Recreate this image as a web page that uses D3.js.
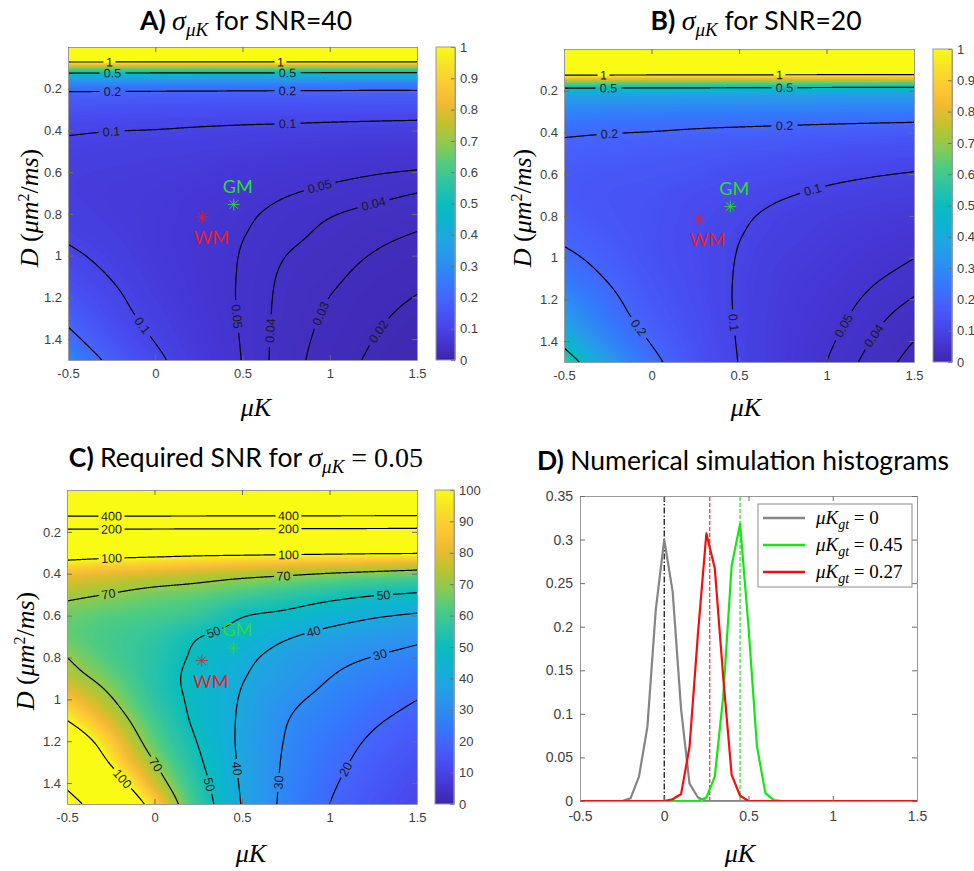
<!DOCTYPE html>
<html>
<head>
<meta charset="utf-8">
<script src="https://cdn.jsdelivr.net/npm/d3@7"></script>
<style>
  body { margin: 0; background: #fff; }
  svg text { font-family: "Liberation Sans", Arial, sans-serif; }
  .tick text { fill: #404040; }
  .tick line { stroke: #6e6e6e; }
  .domain { stroke: #9a9a9a; }
  .serif { font-family: "Liberation Serif", "DejaVu Serif", serif !important; }
  .ttl { font-family: Lato, "Open Sans", sans-serif !important; font-size: 26.5px; }
</style>
</head>
<body>
<div id="fig"></div>
<script>
// grid nodes of the maps (columns = muK, rows = D)
var muKNodes = [-0.5, -0.25, 0, 0.25, 0.5, 0.75, 1, 1.25, 1.5];
var dNodes = [0, 0.05, 0.1, 0.15, 0.2, 0.3, 0.4, 0.5, 0.6, 0.7, 0.8, 0.9, 1, 1.1, 1.2, 1.3, 1.4, 1.5];

// A) sigma_muK for SNR=40
var sigmaSNR40 = [
  [6.25, 6.25, 6.25, 6.25, 6.25, 6.25, 6.25, 6.25, 6.25],
  [1.475, 1.475, 1.475, 1.475, 1.475, 1.475, 1.475, 1.475, 1.475],
  [0.6875, 0.685, 0.6825, 0.68, 0.6775, 0.675, 0.6725, 0.67, 0.6675],
  [0.375, 0.374, 0.3725, 0.371, 0.37, 0.369, 0.3675, 0.366, 0.365],
  [0.2225, 0.221, 0.22, 0.219, 0.2175, 0.216, 0.215, 0.214, 0.2125],
  [0.141, 0.1375, 0.135, 0.1325, 0.131, 0.13, 0.129, 0.1275, 0.127],
  [0.105, 0.101, 0.099, 0.0956, 0.0925, 0.09, 0.0869, 0.0844, 0.0819],
  [0.0906, 0.0869, 0.0831, 0.0806, 0.0756, 0.0713, 0.0669, 0.0634, 0.061],
  [0.0825, 0.0788, 0.0763, 0.0719, 0.0633, 0.0598, 0.055, 0.0513, 0.0488],
  [0.0813, 0.0756, 0.0713, 0.063, 0.0581, 0.0513, 0.0466, 0.0433, 0.04],
  [0.0875, 0.0769, 0.0694, 0.0603, 0.0531, 0.0456, 0.0408, 0.0373, 0.0343],
  [0.0944, 0.0819, 0.0688, 0.0588, 0.0506, 0.0431, 0.0375, 0.033, 0.0293],
  [0.1081, 0.0888, 0.0706, 0.0591, 0.0491, 0.04, 0.0349, 0.0294, 0.0251],
  [0.125, 0.0981, 0.075, 0.0598, 0.0484, 0.038, 0.0324, 0.0263, 0.0223],
  [0.1513, 0.11, 0.08, 0.0619, 0.048, 0.037, 0.0299, 0.0238, 0.0196],
  [0.1825, 0.1225, 0.0875, 0.0646, 0.0483, 0.0363, 0.0281, 0.0218, 0.0171],
  [0.23, 0.145, 0.0975, 0.0681, 0.0488, 0.0356, 0.0265, 0.02, 0.015],
  [0.3, 0.1788, 0.1125, 0.0719, 0.0495, 0.035, 0.025, 0.0184, 0.0133]
];

// B) sigma_muK for SNR=20
var sigmaSNR20 = [
  [12.5, 12.5, 12.5, 12.5, 12.5, 12.5, 12.5, 12.5, 12.5],
  [2.95, 2.95, 2.95, 2.95, 2.95, 2.95, 2.95, 2.95, 2.95],
  [1.375, 1.37, 1.365, 1.36, 1.355, 1.35, 1.345, 1.34, 1.335],
  [0.75, 0.748, 0.745, 0.743, 0.74, 0.738, 0.735, 0.733, 0.73],
  [0.445, 0.443, 0.44, 0.438, 0.435, 0.433, 0.43, 0.428, 0.425],
  [0.283, 0.275, 0.27, 0.265, 0.263, 0.26, 0.258, 0.255, 0.254],
  [0.21, 0.203, 0.198, 0.191, 0.185, 0.18, 0.174, 0.169, 0.164],
  [0.181, 0.174, 0.166, 0.161, 0.151, 0.143, 0.134, 0.127, 0.122],
  [0.165, 0.158, 0.153, 0.144, 0.127, 0.12, 0.11, 0.103, 0.0975],
  [0.163, 0.151, 0.143, 0.126, 0.116, 0.103, 0.0933, 0.0865, 0.08],
  [0.175, 0.154, 0.139, 0.121, 0.106, 0.0913, 0.0815, 0.0745, 0.0685],
  [0.189, 0.164, 0.138, 0.118, 0.101, 0.0863, 0.075, 0.066, 0.0585],
  [0.216, 0.178, 0.141, 0.118, 0.0983, 0.08, 0.0698, 0.0588, 0.0503],
  [0.25, 0.196, 0.15, 0.12, 0.0968, 0.076, 0.0648, 0.0525, 0.0445],
  [0.303, 0.22, 0.16, 0.124, 0.096, 0.074, 0.0598, 0.0475, 0.0393],
  [0.365, 0.245, 0.175, 0.129, 0.0965, 0.0725, 0.0563, 0.0435, 0.0343],
  [0.46, 0.29, 0.195, 0.136, 0.0975, 0.0713, 0.053, 0.04, 0.03],
  [0.6, 0.358, 0.225, 0.144, 0.099, 0.07, 0.05, 0.0368, 0.0265]
];

// C) required SNR for sigma_muK = 0.05
var requiredSNR = [
  [5000, 5000, 5000, 5000, 5000, 5000, 5000, 5000, 5000],
  [1180, 1180, 1180, 1180, 1180, 1180, 1180, 1180, 1180],
  [550, 548, 546, 544, 542, 540, 538, 536, 534],
  [300, 299, 298, 297, 296, 295, 294, 293, 292],
  [178, 177, 176, 175, 174, 173, 172, 171, 170],
  [113, 110, 108, 106, 105, 104, 103, 102, 101.5],
  [84, 81, 79, 76.5, 74, 72, 69.5, 67.5, 65.5],
  [72.5, 69.5, 66.5, 64.5, 60.5, 57, 53.5, 50.7, 48.8],
  [66, 63, 61, 57.5, 50.6, 47.8, 44, 41, 39],
  [65, 60.5, 57, 50.4, 46.5, 41, 37.3, 34.6, 32],
  [70, 61.5, 55.5, 48.2, 42.5, 36.5, 32.6, 29.8, 27.4],
  [75.5, 65.5, 55, 47, 40.5, 34.5, 30, 26.4, 23.4],
  [86.5, 71, 56.5, 47.3, 39.3, 32, 27.9, 23.5, 20.1],
  [100, 78.5, 60, 47.8, 38.7, 30.4, 25.9, 21, 17.8],
  [121, 88, 64, 49.5, 38.4, 29.6, 23.9, 19, 15.7],
  [146, 98, 70, 51.7, 38.6, 29, 22.5, 17.4, 13.7],
  [184, 116, 78, 54.5, 39, 28.5, 21.2, 16, 12],
  [240, 143, 90, 57.5, 39.6, 28, 20, 14.7, 10.6]
];

var levelsA = [0.02, 0.03, 0.04, 0.05, 0.1, 0.2, 0.5, 1];
var levelsB = [0.03, 0.04, 0.05, 0.1, 0.2, 0.5, 1];
var levelsC = [20, 30, 40, 50, 70, 100, 200, 400];

// contour label spots [level, muK, D]
var labelsA = [[1, -0.26, 0.075], [1, 0.72, 0.075], [0.5, -0.245, 0.115], [0.5, 0.76, 0.115],
  [0.2, -0.245, 0.22], [0.2, 0.76, 0.21], [0.1, -0.25, 0.41], [0.1, 0.76, 0.37],
  [0.05, 0.945, 0.68], [0.05, 0.468, 1.29], [0.04, 1.25, 0.75], [0.04, 0.668, 1.36],
  [0.03, 0.954, 1.28], [0.02, 1.288, 1.37], [0.1, -0.067, 1.33]];
var labelsB = [[1, -0.277, 0.116], [1, 0.729, 0.116], [0.5, -0.247, 0.188], [0.5, 0.76, 0.186],
  [0.2, -0.242, 0.41], [0.2, 0.76, 0.364], [0.1, 0.923, 0.683], [0.1, 0.466, 1.31],
  [0.05, 1.104, 1.33], [0.04, 1.285, 1.38], [0.2, -0.067, 1.33]];
var labelsC = [[400, -0.243, 0.123], [400, 0.766, 0.123], [200, -0.243, 0.19], [200, 0.766, 0.186],
  [100, -0.243, 0.33], [100, 0.766, 0.305], [70, -0.262, 0.486], [70, 0.738, 0.409],
  [50, 1.31, 0.502], [50, 0.329, 0.661], [50, 0.309, 1.41], [40, 0.909, 0.68], [40, 0.462, 1.33],
  [30, 1.29, 0.788], [30, 0.719, 1.4], [20, 1.1, 1.338], [70, 0.014, 1.306], [100, -0.177, 1.378]];

var tissueNames = ["WM", "GM"];
var tissueMuK = [0.27, 0.45];
var tissueD = [0.815, 0.755];
var tissueColors = ["#e0202e", "#2fdc2f"];

// D) histograms
var binCenters = [-0.5, -0.45, -0.4, -0.35, -0.3, -0.25, -0.2, -0.15, -0.1, -0.05, 0, 0.05, 0.1, 0.15,
  0.2, 0.25, 0.3, 0.35, 0.4, 0.45, 0.5, 0.55, 0.6, 0.65, 0.7, 0.75, 0.8, 0.85, 0.9, 0.95, 1, 1.05,
  1.1, 1.15, 1.2, 1.25, 1.3, 1.35, 1.4, 1.45, 1.5];
var histGray = [0, 0, 0, 0, 0, 0, 0.003, 0.028, 0.085, 0.22, 0.30, 0.24, 0.105, 0.02, 0.004, 0,
  0, 0, 0, 0, 0, 0, 0, 0, 0, 0, 0, 0, 0, 0, 0, 0, 0, 0, 0, 0, 0, 0, 0, 0, 0];
var histGreen = [0, 0, 0, 0, 0, 0, 0, 0, 0, 0, 0, 0, 0, 0, 0, 0.004, 0.028, 0.12, 0.27, 0.318, 0.2,
  0.063, 0.009, 0.001, 0, 0, 0, 0, 0, 0, 0, 0, 0, 0, 0, 0, 0, 0, 0, 0, 0];
var histRed = [0, 0, 0, 0, 0, 0, 0, 0, 0, 0, 0, 0.002, 0.008, 0.062, 0.192, 0.307, 0.267, 0.142,
  0.03, 0.006, 0, 0, 0, 0, 0, 0, 0, 0, 0, 0, 0, 0, 0, 0, 0, 0, 0, 0, 0, 0, 0];
var gtLabels = ["0", "0.45", "0.27"];
var gtValues = [0, 0.45, 0.27];
var gtLineColors = ["#1a1a1a", "#3ddc3d", "#f03c3c"];
var histColors = ["#858585", "#14e614", "#f01010"];

var xTicks = [-0.5, 0, 0.5, 1, 1.5];
var dTicks = [0.2, 0.4, 0.6, 0.8, 1, 1.2, 1.4];
var cbTicksSigma = [0, 0.1, 0.2, 0.3, 0.4, 0.5, 0.6, 0.7, 0.8, 0.9, 1];
var cbTicksSNR = [0, 10, 20, 30, 40, 50, 60, 70, 80, 90, 100];
var histTicks = [0, 0.05, 0.1, 0.15, 0.2, 0.25, 0.3, 0.35];

// parula-like colormap
var parulaStops = ["#3e26a8", "#4537d5", "#484cf0", "#4562fc", "#337afc", "#2c90f0", "#21a3e3",
  "#0eb2d2", "#09bdbd", "#2ec3a4", "#4ecc81", "#8bcb51", "#bec32d", "#ecba32", "#fec735",
  "#f6e028", "#f9fb15"];
var parula = d3.piecewise(d3.interpolateRgb, parulaStops);
var lut = d3.range(256).map(function(k) { return d3.rgb(parula(k / 255)); });

var svg = d3.select("#fig").append("svg")
  .attr("width", 974)
  .attr("height", 871)
  .style("background", "#fff");
var defs = svg.append("defs");
var tickFmt = function(d) { return String(d); };

// cubic hermite through the grid nodes (non uniform spacing)
function hermite(xs, ys, x) {
  var n = xs.length;
  var i = d3.bisectRight(xs, x) - 1;
  i = Math.max(0, Math.min(n - 2, i));
  function slope(k) {
    if (k === 0) return (ys[1] - ys[0]) / (xs[1] - xs[0]);
    if (k === n - 1) return (ys[n - 1] - ys[n - 2]) / (xs[n - 1] - xs[n - 2]);
    var h0 = xs[k] - xs[k - 1], h1 = xs[k + 1] - xs[k];
    return ((ys[k + 1] - ys[k]) / h1 * h0 + (ys[k] - ys[k - 1]) / h0 * h1) / (h0 + h1);
  }
  var h = xs[i + 1] - xs[i], t = (x - xs[i]) / h, t2 = t * t, t3 = t2 * t;
  return (2 * t3 - 3 * t2 + 1) * ys[i] + (t3 - 2 * t2 + t) * h * slope(i) +
    (-2 * t3 + 3 * t2) * ys[i + 1] + (t3 - t2) * h * slope(i + 1);
}

// turn d3 contour polygons into open lines (drop the grid border parts)
function isolines(contour, w, h) {
  var eps = 1e-6, lines = [];
  function onB(p) { return p[0] <= eps || p[0] >= w - eps || p[1] <= eps || p[1] >= h - eps; }
  contour.coordinates.forEach(function(poly) {
    poly.forEach(function(ring) {
      var pts = ring.slice(0, ring.length - 1), m = pts.length, start = -1;
      for (var k = 0; k < m; k++) {
        if (onB(pts[k]) && onB(pts[(k + 1) % m])) { start = k; break; }
      }
      if (start < 0) { lines.push(ring.slice()); return; }
      var cur = [];
      for (var s = 0; s < m; s++) {
        var a = pts[(start + s) % m], b = pts[(start + s + 1) % m];
        if (onB(a) && onB(b)) {
          if (cur.length > 1) lines.push(cur);
          cur = [];
        } else {
          if (!cur.length) cur.push(a);
          cur.push(b);
        }
      }
      if (cur.length > 1) lines.push(cur);
    });
  });
  return lines;
}

function boxAxes(x, y, xt, yt, x0, y0, w, h, xPad, yPad, tl, fs) {
  svg.append("g").attr("transform", "translate(0," + (y0 + h) + ")")
    .call(d3.axisBottom(x).tickValues(xt).tickFormat(tickFmt).tickSizeInner(-tl).tickSizeOuter(0).tickPadding(xPad))
    .selectAll("text").style("font-size", fs + "px");
  svg.append("g").attr("transform", "translate(0," + y0 + ")")
    .call(d3.axisTop(x).tickValues(xt).tickFormat("").tickSizeInner(-tl).tickSizeOuter(0));
  svg.append("g").attr("transform", "translate(" + x0 + ",0)")
    .call(d3.axisLeft(y).tickValues(yt).tickFormat(tickFmt).tickSizeInner(-tl).tickSizeOuter(0).tickPadding(yPad))
    .selectAll("text").style("font-size", fs + "px");
  svg.append("g").attr("transform", "translate(" + (x0 + w) + ",0)")
    .call(d3.axisRight(y).tickValues(yt).tickFormat("").tickSizeInner(-tl).tickSizeOuter(0));
}

function drawMap(p) {
  var x = d3.scaleLinear().domain([-0.5, 1.5]).range([p.x0, p.x0 + p.w]);
  var y = d3.scaleLinear().domain([0, 1.5]).range([p.y0, p.y0 + p.h]);
  var logGrid = p.grid.map(function(r) { return r.map(Math.log); });
  var field = new Float64Array(p.w * p.h);
  for (var i = 0; i < p.w; i++) {
    var mu = x.invert(p.x0 + i + 0.5);
    var col = logGrid.map(function(r) { return hermite(muKNodes, r, mu); });
    for (var j = 0; j < p.h; j++) {
      field[j * p.w + i] = hermite(dNodes, col, y.invert(p.y0 + j + 0.5));
    }
  }

  // colour raster
  var canvas = document.createElement("canvas");
  canvas.width = p.w;
  canvas.height = p.h;
  var ctx = canvas.getContext("2d");
  var img = ctx.createImageData(p.w, p.h);
  for (var k = 0; k < field.length; k++) {
    var t = Math.max(0, Math.min(1, Math.exp(field[k]) / p.cmax));
    var c = lut[Math.round(t * 255)];
    img.data[4 * k] = c.r; img.data[4 * k + 1] = c.g; img.data[4 * k + 2] = c.b; img.data[4 * k + 3] = 255;
  }
  ctx.putImageData(img, 0, 0);
  svg.append("image")
    .attr("x", p.x0).attr("y", p.y0)
    .attr("width", p.w).attr("height", p.h)
    .attr("preserveAspectRatio", "none")
    .attr("href", canvas.toDataURL());

  // contour lines with gaps for their labels
  var cs = d3.contours().size([p.w, p.h]).thresholds(p.levels.map(Math.log))(field);
  var lines = {};
  cs.forEach(function(c, k) { lines[p.levels[k]] = isolines(c, p.w, p.h); });

  var mask = defs.append("mask").attr("id", "mask" + p.id)
    .attr("maskUnits", "userSpaceOnUse")
    .attr("x", p.x0).attr("y", p.y0).attr("width", p.w).attr("height", p.h);
  mask.append("rect").attr("x", p.x0).attr("y", p.y0).attr("width", p.w).attr("height", p.h).attr("fill", "white");

  var labelG = svg.append("g");
  p.labels.forEach(function(l) {
    var tx = x(l[1]) - p.x0, ty = y(l[2]) - p.y0, best = null, bd = Infinity;
    (lines[l[0]] || []).forEach(function(line) {
      line.forEach(function(pt, idx) {
        var dd = (pt[0] - tx) * (pt[0] - tx) + (pt[1] - ty) * (pt[1] - ty);
        if (dd < bd) { bd = dd; best = { line: line, idx: idx }; }
      });
    });
    if (!best) return;
    var ln = best.line;
    var a = ln[Math.max(0, best.idx - 4)], b = ln[Math.min(ln.length - 1, best.idx + 4)];
    var ang = Math.atan2(b[1] - a[1], b[0] - a[0]) * 180 / Math.PI;
    if (ang > 90) ang -= 180;
    if (ang <= -90) ang += 180;
    var pt = ln[best.idx];
    var tr = "translate(" + (p.x0 + pt[0]) + "," + (p.y0 + pt[1]) + ") rotate(" + ang + ")";
    var txt = String(l[0]);
    var bw = txt.length * 7 + 5;
    mask.append("rect").attr("x", -bw / 2).attr("y", -6).attr("width", bw).attr("height", 12)
      .attr("transform", tr).attr("fill", "black");
    labelG.append("text").attr("transform", tr)
      .attr("text-anchor", "middle").attr("dy", "0.36em")
      .style("font-size", "12.5px").style("fill", "#1a1a1a")
      .text(txt);
  });

  var line = d3.line().x(function(d) { return p.x0 + d[0]; }).y(function(d) { return p.y0 + d[1]; });
  var cg = svg.insert("g", function() { return labelG.node(); }).attr("mask", "url(#mask" + p.id + ")");
  p.levels.forEach(function(lv) {
    lines[lv].forEach(function(ln) {
      cg.append("path").attr("d", line(ln)).attr("fill", "none").attr("stroke", "#000").attr("stroke-width", 1.2);
    });
  });

  // tissue markers
  tissueNames.forEach(function(name, k) {
    var mx = x(tissueMuK[k]), my = y(tissueD[k]);
    svg.append("path")
      .attr("d", "M-6,0H6M0,-6V6M-4.3,-4.3L4.3,4.3M-4.3,4.3L4.3,-4.3")
      .attr("transform", "translate(" + mx + "," + my + ")")
      .attr("stroke", tissueColors[k]).attr("stroke-width", 0.9).attr("fill", "none");
    svg.append("text")
      .attr("x", mx + (name === "GM" ? 4 : 9))
      .attr("y", my + (name === "GM" ? -12 : 27))
      .attr("text-anchor", "middle")
      .attr("class", "ttl")
      .style("font-size", "18px").style("fill", tissueColors[k])
      .text(name);
  });

  boxAxes(x, y, xTicks, dTicks, p.x0, p.y0, p.w, p.h, 9, 6, 5, 13);

  // colorbar
  var grad = defs.append("linearGradient").attr("id", "grad" + p.id)
    .attr("x1", 0).attr("y1", 1).attr("x2", 0).attr("y2", 0);
  parulaStops.forEach(function(c, k) {
    grad.append("stop").attr("offset", k / (parulaStops.length - 1)).attr("stop-color", c);
  });
  svg.append("rect").attr("x", p.cbX).attr("y", p.y0).attr("width", 19).attr("height", p.h)
    .attr("fill", "url(#grad" + p.id + ")");
  var cy = d3.scaleLinear().domain([0, p.cmax]).range([p.y0 + p.h, p.y0]);
  svg.append("g").attr("transform", "translate(" + (p.cbX + 19) + ",0)")
    .call(d3.axisRight(cy).tickValues(p.cbTicks).tickFormat(tickFmt).tickSizeInner(-4).tickSizeOuter(0).tickPadding(5))
    .selectAll("text").style("font-size", "13px");
  svg.append("rect").attr("x", p.cbX).attr("y", p.y0).attr("width", 19).attr("height", p.h)
    .attr("fill", "none").attr("stroke", "#9a9a9a");

  // axis labels
  svg.append("text").attr("class", "serif").attr("x", p.xlx).attr("y", p.xly)
    .attr("text-anchor", "middle").style("font-size", "26px").style("font-style", "italic").text("μK");
  var yl = svg.append("text").attr("class", "serif")
    .attr("transform", "translate(" + p.ylx + "," + p.yly + ") rotate(-90)")
    .attr("text-anchor", "middle").style("font-size", "26px");
  yl.append("tspan").style("font-style", "italic").text("D");
  yl.append("tspan").text(" (");
  yl.append("tspan").style("font-style", "italic").text("μm");
  yl.append("tspan").attr("dy", -9).style("font-size", "16px").text("2");
  yl.append("tspan").attr("dy", 9).text("/");
  yl.append("tspan").style("font-style", "italic").text("ms");
  yl.append("tspan").text(")");
}

function sigmaTitle(t) {
  t.append("tspan").attr("class", "serif").style("font-style", "italic").style("font-size", "28px").text("σ");
  t.append("tspan").attr("class", "serif").style("font-style", "italic").style("font-size", "19px").attr("dy", 6).text("μK");
}

// panel A
drawMap({ id: "A", x0: 68, y0: 47, w: 349, h: 313, grid: sigmaSNR40, levels: levelsA, labels: labelsA,
  cmax: 1, cbX: 436, cbTicks: cbTicksSigma, xlx: 256, xly: 416, ylx: 38, yly: 208 });
var tA = svg.append("text").attr("class", "ttl").attr("x", 246).attr("y", 30).attr("text-anchor", "middle");
tA.append("tspan").style("font-weight", "bold").text("A) ");
sigmaTitle(tA);
tA.append("tspan").attr("dy", -6).text(" for SNR=40");

// panel B
drawMap({ id: "B", x0: 564, y0: 49, w: 350, h: 313, grid: sigmaSNR20, levels: levelsB, labels: labelsB,
  cmax: 1, cbX: 933, cbTicks: cbTicksSigma, xlx: 746, xly: 416, ylx: 531, yly: 208 });
var tB = svg.append("text").attr("class", "ttl").attr("x", 756).attr("y", 30).attr("text-anchor", "middle");
tB.append("tspan").style("font-weight", "bold").text("B) ");
sigmaTitle(tB);
tB.append("tspan").attr("dy", -6).text(" for SNR=20");

// panel C
drawMap({ id: "C", x0: 67, y0: 490, w: 350, h: 314, grid: requiredSNR, levels: levelsC, labels: labelsC,
  cmax: 100, cbX: 435, cbTicks: cbTicksSNR, xlx: 251, xly: 862, ylx: 34, yly: 651 });
var tC = svg.append("text").attr("class", "ttl").attr("x", 246).attr("y", 467).attr("text-anchor", "middle");
tC.append("tspan").style("font-weight", "bold").text("C) ");
tC.append("tspan").text("Required SNR for ");
sigmaTitle(tC);
tC.append("tspan").attr("class", "serif").attr("dy", -6).style("font-size", "28px").text(" = 0.05");

// panel D
(function() {
  var x0 = 580, y0 = 496, w = 337, h = 305;
  var x = d3.scaleLinear().domain([-0.5, 1.5]).range([x0, x0 + w]);
  var y = d3.scaleLinear().domain([0, 0.35]).range([y0 + h, y0]);
  svg.append("rect").attr("x", x0).attr("y", y0).attr("width", w).attr("height", h).attr("fill", "#fff");

  var series = [histGray, histGreen, histRed];
  var line = d3.line().x(function(d, i) { return x(binCenters[i]); }).y(function(d) { return y(d); });

  gtValues.forEach(function(v, k) {
    svg.append("line").attr("x1", x(v)).attr("x2", x(v)).attr("y1", y(0)).attr("y2", y(0.35))
      .attr("stroke", gtLineColors[k]).attr("stroke-width", 1.3)
      .attr("stroke-dasharray", k === 0 ? "6,2,1.5,2" : "4,2");
  });
  series.forEach(function(s, k) {
    svg.append("path").attr("d", line(s)).attr("fill", "none")
      .attr("stroke", histColors[k]).attr("stroke-width", 2.2).attr("stroke-linejoin", "round");
  });

  boxAxes(x, y, xTicks, histTicks, x0, y0, w, h, 10, 7, 5, 14);

  // legend
  var lx = 758, ly = 504;
  svg.append("rect").attr("x", lx).attr("y", ly).attr("width", 154).attr("height", 83)
    .attr("fill", "#fff").attr("stroke", "#8c8c8c");
  gtLabels.forEach(function(lab, k) {
    var yy = ly + 14 + k * 27;
    svg.append("line").attr("x1", lx + 5).attr("x2", lx + 47).attr("y1", yy).attr("y2", yy)
      .attr("stroke", histColors[k]).attr("stroke-width", 2.5);
    var t = svg.append("text").attr("class", "serif").attr("x", lx + 58).attr("y", yy + 6)
      .style("font-size", "19px");
    t.append("tspan").style("font-style", "italic").text("μK");
    t.append("tspan").style("font-style", "italic").style("font-size", "14px").attr("dy", 5).text("gt");
    t.append("tspan").attr("dy", -5).text(" = " + lab);
  });

  svg.append("text").attr("class", "serif").attr("x", 740).attr("y", 862)
    .attr("text-anchor", "middle").style("font-size", "26px").style("font-style", "italic").text("μK");
  var tD = svg.append("text").attr("class", "ttl").attr("x", 743).attr("y", 470).attr("text-anchor", "middle");
  tD.append("tspan").style("font-weight", "bold").text("D) ");
  tD.append("tspan").text("Numerical simulation histograms");
})();
</script>
</body>
</html>
